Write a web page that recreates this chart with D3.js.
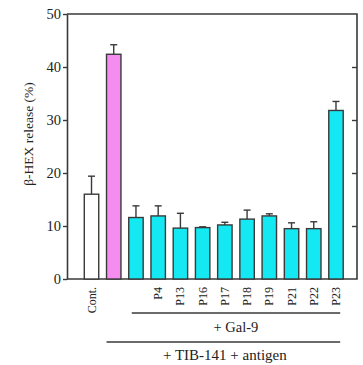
<!DOCTYPE html>
<html>
<head>
<meta charset="utf-8">
<script src="https://cdn.jsdelivr.net/npm/d3@7"></script>
<style>
  body { margin: 0; background: #fff; }
  text { font-family: "Liberation Serif", "DejaVu Serif", serif; fill: #222; }
</style>
</head>
<body>
<svg id="chart" width="363" height="365"></svg>
<script>
// bar data
const categories = ["c0", "c1", "c2", "P4", "P13", "P16", "P17", "P18", "P19", "P21", "P22", "P23"];
const tickLabels = ["Cont.", "", "", "P4", "P13", "P16", "P17", "P18", "P19", "P21", "P22", "P23"];
const means = [16.0, 42.4, 11.6, 11.9, 9.6, 9.7, 10.2, 11.3, 11.9, 9.5, 9.5, 31.8];
const errors = [3.4, 1.8, 2.2, 1.9, 2.8, 0.15, 0.5, 1.7, 0.4, 1.1, 1.3, 1.7];
const fills = ["#ffffff", "#f58cf0", "#14e8f2", "#14e8f2", "#14e8f2", "#14e8f2", "#14e8f2", "#14e8f2", "#14e8f2", "#14e8f2", "#14e8f2", "#14e8f2"];
const yTicks = [0, 10, 20, 30, 40, 50];

const svg = d3.select("#chart");

// plot frame
const frame = { left: 67, right: 357, top: 14, bottom: 279 };

const x = d3.scaleBand()
    .domain(categories)
    .range([80.4, 347.1])
    .paddingInner(0.35)
    .paddingOuter(0.175);

const y = d3.scaleLinear()
    .domain([0, 50])
    .range([frame.bottom, frame.top]);

const ink = "#3a3a3a";

// left axis with outward ticks
const yAxis = svg.append("g")
    .attr("transform", `translate(${frame.left},0)`)
    .call(d3.axisLeft(y).tickValues(yTicks).tickSize(4).tickPadding(2).tickSizeOuter(0));
yAxis.attr("font-family", null).attr("font-size", null);
yAxis.select(".domain").attr("stroke", ink).attr("stroke-width", 1.6);
yAxis.selectAll(".tick line").attr("stroke", ink).attr("stroke-width", 1.4);
yAxis.selectAll(".tick text")
    .style("font-size", "14.5px")
    .attr("fill", "#222");

// right axis, ticks pointing inward
const yAxisR = svg.append("g")
    .attr("transform", `translate(${frame.right},0)`)
    .call(d3.axisLeft(y).tickValues(yTicks.slice(1, -1)).tickSize(0).tickFormat(""));
yAxisR.select(".domain").remove();
yAxisR.selectAll(".tick line").attr("x1", 0).attr("x2", -5).attr("stroke", ink).attr("stroke-width", 1.4);

// frame top / right / bottom
svg.append("path")
    .attr("d", `M${frame.left},${frame.top}H${frame.right}V${frame.bottom}H${frame.left}`)
    .attr("fill", "none")
    .attr("stroke", ink)
    .attr("stroke-width", 1.6);

// bars
const bars = svg.append("g");
bars.selectAll("rect")
    .data(means)
    .join("rect")
    .attr("x", (d, i) => x(categories[i]))
    .attr("y", d => y(d))
    .attr("width", x.bandwidth())
    .attr("height", d => y(0) - y(d))
    .attr("fill", (d, i) => fills[i])
    .attr("stroke", ink)
    .attr("stroke-width", 1.4);

// error bars (upper only)
const eb = svg.append("g").attr("stroke", ink).attr("stroke-width", 1.4);
means.forEach((m, i) => {
    const cx = x(categories[i]) + x.bandwidth() / 2;
    eb.append("line")
        .attr("x1", cx).attr("x2", cx)
        .attr("y1", y(m)).attr("y2", y(m + errors[i]));
    eb.append("line")
        .attr("x1", cx - 3.5).attr("x2", cx + 3.5)
        .attr("y1", y(m + errors[i])).attr("y2", y(m + errors[i]));
});

// rotated category labels
svg.append("g")
    .selectAll("text")
    .data(tickLabels)
    .join("text")
    .attr("transform", (d, i) => `translate(${x(categories[i]) + x.bandwidth() / 2 + 4},${frame.bottom + 8}) rotate(-90)`)
    .attr("text-anchor", "end")
    .style("font-size", "12px")
    .text(d => d);

// y axis title
svg.append("text")
    .attr("transform", `translate(33,134) rotate(-90)`)
    .attr("text-anchor", "middle")
    .style("font-size", "13.5px")
    .text("β-HEX release (%)");

// treatment brackets
const gal = [categories[2], categories[11]];
svg.append("line")
    .attr("x1", x(gal[0]) + 3).attr("x2", x(gal[1]) + x.bandwidth() - 3)
    .attr("y1", 313).attr("y2", 313)
    .attr("stroke", ink).attr("stroke-width", 1.3);
svg.append("text")
    .attr("x", (x(gal[0]) + x(gal[1]) + x.bandwidth()) / 2)
    .attr("y", 332)
    .attr("text-anchor", "middle")
    .style("font-size", "14.5px")
    .text("+ Gal-9");

svg.append("line")
    .attr("x1", x(categories[1])).attr("x2", x(gal[1]) + x.bandwidth() - 3)
    .attr("y1", 342).attr("y2", 342)
    .attr("stroke", ink).attr("stroke-width", 1.3);
svg.append("text")
    .attr("x", (x(categories[1]) + x(gal[1]) + x.bandwidth()) / 2)
    .attr("y", 360)
    .attr("text-anchor", "middle")
    .style("font-size", "15px")
    .text("+ TIB-141 + antigen");
</script>
</body>
</html>
